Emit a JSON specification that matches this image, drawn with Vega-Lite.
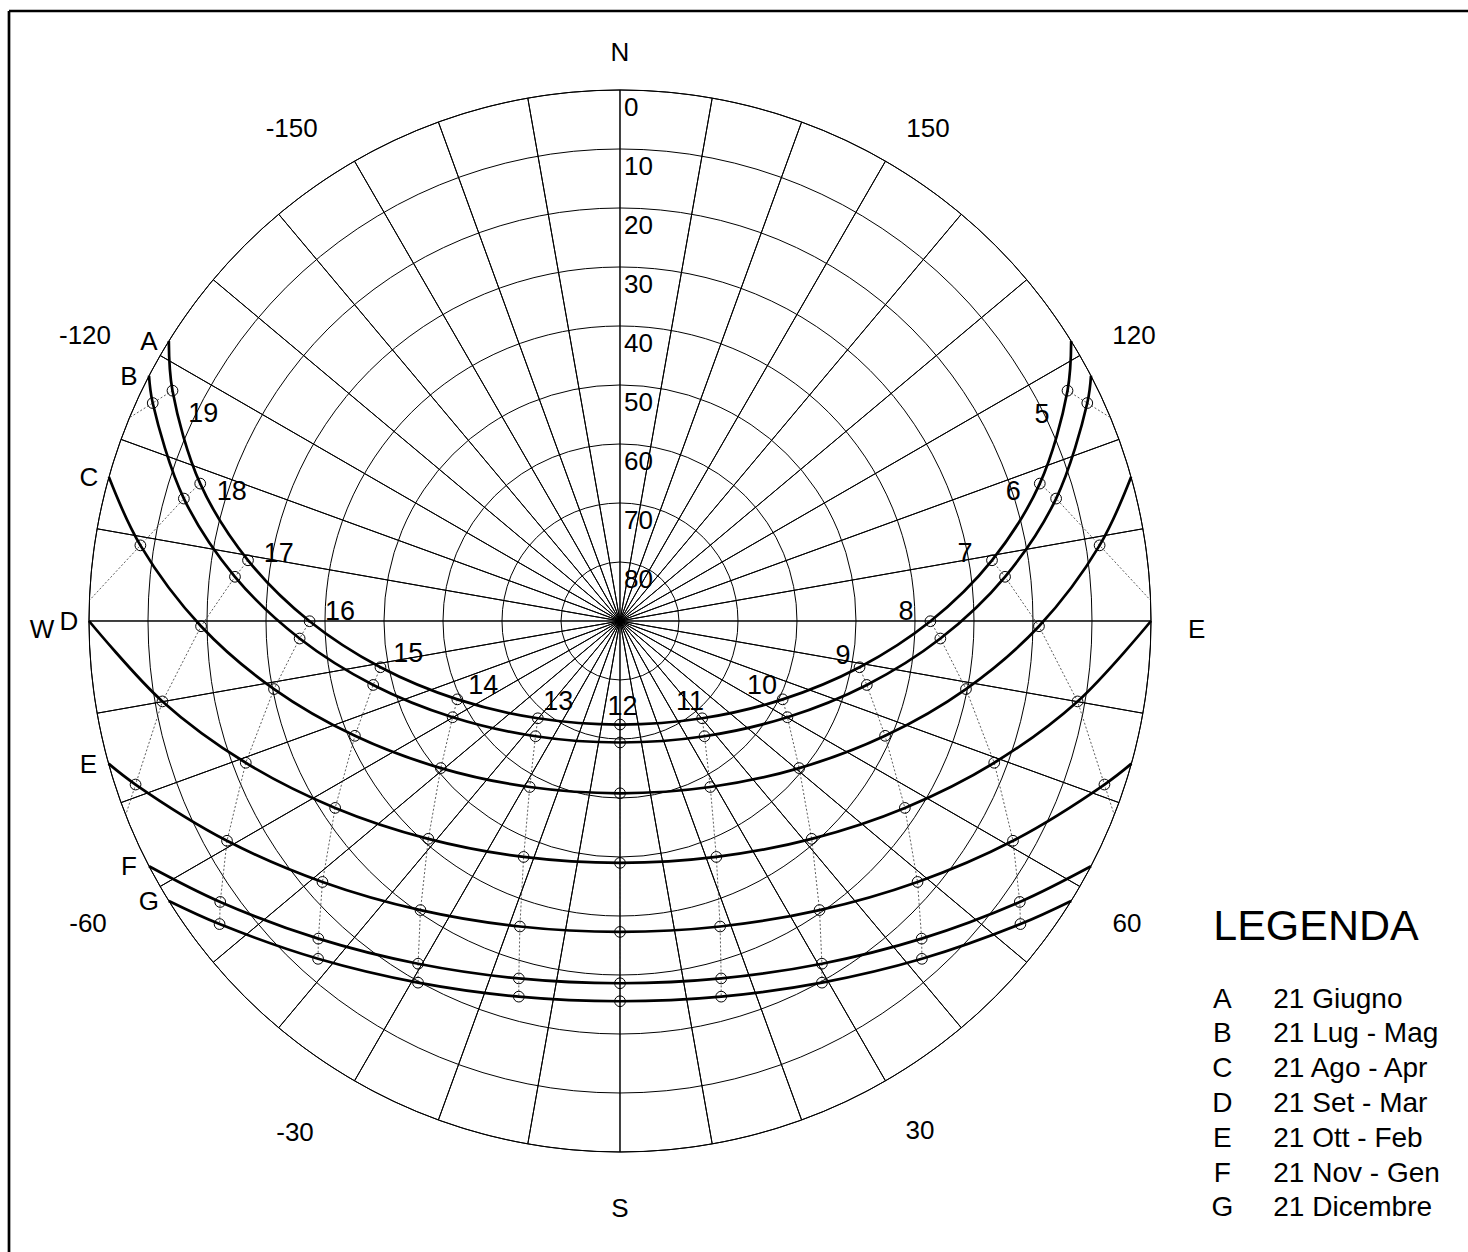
{
  "$schema": "https://vega.github.io/schema/vega-lite/v6.json",
  "width": 1459,
  "height": 1241,
  "autosize": {"type": "none"},
  "padding": {"left": 9, "top": 11, "right": 0, "bottom": 0},
  "background": "white",
  "config": {"view": {"stroke": null}, "text": {"font": "Liberation Sans", "color": "black"}},
  "datasets": {
    "sectors": [
      {"az0": 0, "az1": 10}, {"az0": 10, "az1": 20}, {"az0": 20, "az1": 30}, {"az0": 30, "az1": 40},
      {"az0": 40, "az1": 50}, {"az0": 50, "az1": 60}, {"az0": 60, "az1": 70}, {"az0": 70, "az1": 80},
      {"az0": 80, "az1": 90}, {"az0": 90, "az1": 100}, {"az0": 100, "az1": 110}, {"az0": 110, "az1": 120},
      {"az0": 120, "az1": 130}, {"az0": 130, "az1": 140}, {"az0": 140, "az1": 150}, {"az0": 150, "az1": 160},
      {"az0": 160, "az1": 170}, {"az0": 170, "az1": 180}, {"az0": 180, "az1": 190}, {"az0": 190, "az1": 200},
      {"az0": 200, "az1": 210}, {"az0": 210, "az1": 220}, {"az0": 220, "az1": 230}, {"az0": 230, "az1": 240},
      {"az0": 240, "az1": 250}, {"az0": 250, "az1": 260}, {"az0": 260, "az1": 270}, {"az0": 270, "az1": 280},
      {"az0": 280, "az1": 290}, {"az0": 290, "az1": 300}, {"az0": 300, "az1": 310}, {"az0": 310, "az1": 320},
      {"az0": 320, "az1": 330}, {"az0": 330, "az1": 340}, {"az0": 340, "az1": 350}, {"az0": 350, "az1": 360}
    ],
    "rings": [
      {"alt": "0", "zen": 90}, {"alt": "10", "zen": 80}, {"alt": "20", "zen": 70}, {"alt": "30", "zen": 60},
      {"alt": "40", "zen": 50}, {"alt": "50", "zen": 40}, {"alt": "60", "zen": 30}, {"alt": "70", "zen": 20},
      {"alt": "80", "zen": 10}
    ],
    "frame": [{"left": -103.56, "top": 103.39}],
    "sun": [
      {"date": "A", "rank": 1, "type": "rise", "x": 76.47, "y": 47.46},
      {"date": "A", "rank": 1, "type": "sun", "hour": 5, "x": 75.85, "y": 39.04},
      {"date": "A", "rank": 1, "type": "sun", "hour": 6, "x": 71.15, "y": 23.29},
      {"date": "A", "rank": 1, "type": "sun", "hour": 7, "x": 63.05, "y": 10.29},
      {"date": "A", "rank": 1, "type": "sun", "hour": 8, "x": 52.61, "y": -0.04},
      {"date": "A", "rank": 1, "type": "sun", "hour": 9, "x": 40.60, "y": -7.84},
      {"date": "A", "rank": 1, "type": "sun", "hour": 10, "x": 27.57, "y": -13.28},
      {"date": "A", "rank": 1, "type": "sun", "hour": 11, "x": 13.93, "y": -16.49},
      {"date": "A", "rank": 1, "type": "sun", "hour": 12, "x": 0, "y": -17.55},
      {"date": "A", "rank": 1, "type": "sun", "hour": 13, "x": -13.93, "y": -16.49},
      {"date": "A", "rank": 1, "type": "sun", "hour": 14, "x": -27.57, "y": -13.28},
      {"date": "A", "rank": 1, "type": "sun", "hour": 15, "x": -40.60, "y": -7.84},
      {"date": "A", "rank": 1, "type": "sun", "hour": 16, "x": -52.61, "y": -0.04},
      {"date": "A", "rank": 1, "type": "sun", "hour": 17, "x": -63.05, "y": 10.29},
      {"date": "A", "rank": 1, "type": "sun", "hour": 18, "x": -71.15, "y": 23.29},
      {"date": "A", "rank": 1, "type": "sun", "hour": 19, "x": -75.85, "y": 39.04},
      {"date": "A", "rank": 1, "type": "rise", "x": -76.47, "y": 47.46},

      {"date": "B", "rank": 2, "type": "rise", "x": 79.83, "y": 41.57},
      {"date": "B", "rank": 2, "type": "sun", "hour": 5, "x": 79.20, "y": 36.94},
      {"date": "B", "rank": 2, "type": "sun", "hour": 6, "x": 73.92, "y": 20.75},
      {"date": "B", "rank": 2, "type": "sun", "hour": 7, "x": 65.26, "y": 7.49},
      {"date": "B", "rank": 2, "type": "sun", "hour": 8, "x": 54.30, "y": -2.97},
      {"date": "B", "rank": 2, "type": "sun", "hour": 9, "x": 41.83, "y": -10.84},
      {"date": "B", "rank": 2, "type": "sun", "hour": 10, "x": 28.37, "y": -16.31},
      {"date": "B", "rank": 2, "type": "sun", "hour": 11, "x": 14.32, "y": -19.53},
      {"date": "B", "rank": 2, "type": "sun", "hour": 12, "x": 0, "y": -20.59},
      {"date": "B", "rank": 2, "type": "sun", "hour": 13, "x": -14.32, "y": -19.53},
      {"date": "B", "rank": 2, "type": "sun", "hour": 14, "x": -28.37, "y": -16.31},
      {"date": "B", "rank": 2, "type": "sun", "hour": 15, "x": -41.83, "y": -10.84},
      {"date": "B", "rank": 2, "type": "sun", "hour": 16, "x": -54.30, "y": -2.97},
      {"date": "B", "rank": 2, "type": "sun", "hour": 17, "x": -65.26, "y": 7.49},
      {"date": "B", "rank": 2, "type": "sun", "hour": 18, "x": -73.92, "y": 20.75},
      {"date": "B", "rank": 2, "type": "sun", "hour": 19, "x": -79.20, "y": 36.94},
      {"date": "B", "rank": 2, "type": "rise", "x": -79.83, "y": 41.57},

      {"date": "C", "rank": 3, "type": "rise", "x": 86.63, "y": 24.39},
      {"date": "C", "rank": 3, "type": "sun", "hour": 6, "x": 81.29, "y": 12.82},
      {"date": "C", "rank": 3, "type": "sun", "hour": 7, "x": 71.01, "y": -0.89},
      {"date": "C", "rank": 3, "type": "sun", "hour": 8, "x": 58.64, "y": -11.54},
      {"date": "C", "rank": 3, "type": "sun", "hour": 9, "x": 44.93, "y": -19.46},
      {"date": "C", "rank": 3, "type": "sun", "hour": 10, "x": 30.37, "y": -24.93},
      {"date": "C", "rank": 3, "type": "sun", "hour": 11, "x": 15.30, "y": -28.14},
      {"date": "C", "rank": 3, "type": "sun", "hour": 12, "x": 0, "y": -29.20},
      {"date": "C", "rank": 3, "type": "sun", "hour": 13, "x": -15.30, "y": -28.14},
      {"date": "C", "rank": 3, "type": "sun", "hour": 14, "x": -30.37, "y": -24.93},
      {"date": "C", "rank": 3, "type": "sun", "hour": 15, "x": -44.93, "y": -19.46},
      {"date": "C", "rank": 3, "type": "sun", "hour": 16, "x": -58.64, "y": -11.54},
      {"date": "C", "rank": 3, "type": "sun", "hour": 17, "x": -71.01, "y": -0.89},
      {"date": "C", "rank": 3, "type": "sun", "hour": 18, "x": -81.29, "y": 12.82},
      {"date": "C", "rank": 3, "type": "rise", "x": -86.63, "y": 24.39},

      {"date": "D", "rank": 4, "type": "rise", "x": 90, "y": 0},
      {"date": "D", "rank": 4, "type": "sun", "hour": 7, "x": 77.55, "y": -13.63},
      {"date": "D", "rank": 4, "type": "sun", "hour": 8, "x": 63.43, "y": -24.03},
      {"date": "D", "rank": 4, "type": "sun", "hour": 9, "x": 48.28, "y": -31.68},
      {"date": "D", "rank": 4, "type": "sun", "hour": 10, "x": 32.49, "y": -36.92},
      {"date": "D", "rank": 4, "type": "sun", "hour": 11, "x": 16.33, "y": -39.99},
      {"date": "D", "rank": 4, "type": "sun", "hour": 12, "x": 0, "y": -41.00},
      {"date": "D", "rank": 4, "type": "sun", "hour": 13, "x": -16.33, "y": -39.99},
      {"date": "D", "rank": 4, "type": "sun", "hour": 14, "x": -32.49, "y": -36.92},
      {"date": "D", "rank": 4, "type": "sun", "hour": 15, "x": -48.28, "y": -31.68},
      {"date": "D", "rank": 4, "type": "sun", "hour": 16, "x": -63.43, "y": -24.03},
      {"date": "D", "rank": 4, "type": "sun", "hour": 17, "x": -77.55, "y": -13.63},
      {"date": "D", "rank": 4, "type": "rise", "x": -90, "y": 0},

      {"date": "E", "rank": 5, "type": "rise", "x": 86.69, "y": -24.18},
      {"date": "E", "rank": 5, "type": "sun", "hour": 7, "x": 82.11, "y": -27.72},
      {"date": "E", "rank": 5, "type": "sun", "hour": 8, "x": 66.61, "y": -37.25},
      {"date": "E", "rank": 5, "type": "sun", "hour": 9, "x": 50.43, "y": -44.23},
      {"date": "E", "rank": 5, "type": "sun", "hour": 10, "x": 33.82, "y": -49.00},
      {"date": "E", "rank": 5, "type": "sun", "hour": 11, "x": 16.97, "y": -51.78},
      {"date": "E", "rank": 5, "type": "sun", "hour": 12, "x": 0, "y": -52.70},
      {"date": "E", "rank": 5, "type": "sun", "hour": 13, "x": -16.97, "y": -51.78},
      {"date": "E", "rank": 5, "type": "sun", "hour": 14, "x": -33.82, "y": -49.00},
      {"date": "E", "rank": 5, "type": "sun", "hour": 15, "x": -50.43, "y": -44.23},
      {"date": "E", "rank": 5, "type": "sun", "hour": 16, "x": -66.61, "y": -37.25},
      {"date": "E", "rank": 5, "type": "sun", "hour": 17, "x": -82.11, "y": -27.72},
      {"date": "E", "rank": 5, "type": "rise", "x": -86.69, "y": -24.18},

      {"date": "F", "rank": 6, "type": "rise", "x": 79.83, "y": -41.57},
      {"date": "F", "rank": 6, "type": "sun", "hour": 8, "x": 67.76, "y": -47.62},
      {"date": "F", "rank": 6, "type": "sun", "hour": 9, "x": 51.13, "y": -53.84},
      {"date": "F", "rank": 6, "type": "sun", "hour": 10, "x": 34.22, "y": -58.09},
      {"date": "F", "rank": 6, "type": "sun", "hour": 11, "x": 17.15, "y": -60.58},
      {"date": "F", "rank": 6, "type": "sun", "hour": 12, "x": 0, "y": -61.40},
      {"date": "F", "rank": 6, "type": "sun", "hour": 13, "x": -17.15, "y": -60.58},
      {"date": "F", "rank": 6, "type": "sun", "hour": 14, "x": -34.22, "y": -58.09},
      {"date": "F", "rank": 6, "type": "sun", "hour": 15, "x": -51.13, "y": -53.84},
      {"date": "F", "rank": 6, "type": "sun", "hour": 16, "x": -67.76, "y": -47.62},
      {"date": "F", "rank": 6, "type": "rise", "x": -79.83, "y": -41.57},

      {"date": "G", "rank": 7, "type": "rise", "x": 76.47, "y": -47.46},
      {"date": "G", "rank": 7, "type": "sun", "hour": 8, "x": 67.87, "y": -51.37},
      {"date": "G", "rank": 7, "type": "sun", "hour": 9, "x": 51.17, "y": -57.26},
      {"date": "G", "rank": 7, "type": "sun", "hour": 10, "x": 34.23, "y": -61.30},
      {"date": "G", "rank": 7, "type": "sun", "hour": 11, "x": 17.15, "y": -63.67},
      {"date": "G", "rank": 7, "type": "sun", "hour": 12, "x": 0, "y": -64.45},
      {"date": "G", "rank": 7, "type": "sun", "hour": 13, "x": -17.15, "y": -63.67},
      {"date": "G", "rank": 7, "type": "sun", "hour": 14, "x": -34.23, "y": -61.30},
      {"date": "G", "rank": 7, "type": "sun", "hour": 15, "x": -51.17, "y": -57.26},
      {"date": "G", "rank": 7, "type": "sun", "hour": 16, "x": -67.87, "y": -51.37},
      {"date": "G", "rank": 7, "type": "rise", "x": -76.47, "y": -47.46},

      {"type": "ext", "rank": 8, "hour": 5, "x": 83.14, "y": 34.46},
      {"type": "ext", "rank": 8, "hour": 6, "x": 89.93, "y": 3.50},
      {"type": "ext", "rank": 8, "hour": 7, "x": 83.78, "y": -32.88},
      {"type": "ext", "rank": 8, "hour": 17, "x": -83.78, "y": -32.88},
      {"type": "ext", "rank": 8, "hour": 18, "x": -89.93, "y": 3.50},
      {"type": "ext", "rank": 8, "hour": 19, "x": -83.14, "y": 34.46}
    ],
    "hourLabels": [
      {"hour": "19", "x": -70.63, "y": 35.03}, {"hour": "18", "x": -65.81, "y": 21.78},
      {"hour": "17", "x": -57.83, "y": 11.32}, {"hour": "16", "x": -47.46, "y": 1.58},
      {"hour": "15", "x": -35.88, "y": -5.63}, {"hour": "14", "x": -23.17, "y": -10.98},
      {"hour": "13", "x": -10.46, "y": -13.81}, {"hour": "12", "x": 0.42, "y": -14.66},
      {"hour": "11", "x": 11.86, "y": -13.81}, {"hour": "10", "x": 24.07, "y": -11.02},
      {"hour": "9", "x": 37.8, "y": -5.93}, {"hour": "8", "x": 48.47, "y": 1.53},
      {"hour": "7", "x": 58.47, "y": 11.36}, {"hour": "6", "x": 66.66, "y": 21.83},
      {"hour": "5", "x": 71.53, "y": 34.92}
    ],
    "dirLabels": [
      {"label": "N", "x": 0, "y": 96.27}, {"label": "S", "x": 0, "y": -99.66},
      {"label": "E", "x": 97.75, "y": -1.53}, {"label": "W", "x": -97.97, "y": -1.53},
      {"label": "150", "x": 52.2, "y": 83.39}, {"label": "-150", "x": -55.64, "y": 83.31},
      {"label": "120", "x": 87.12, "y": 48.25}, {"label": "-120", "x": -90.68, "y": 48.31},
      {"label": "60", "x": 85.93, "y": -51.41}, {"label": "-60", "x": -90.17, "y": -51.41},
      {"label": "30", "x": 50.85, "y": -86.44}, {"label": "-30", "x": -55.08, "y": -86.83}
    ],
    "title": [{"label": "LEGENDA", "x": 117.97, "y": -51.86}],
    "legend": [
      {"code": "A", "label": "21 Giugno"}, {"code": "B", "label": "21 Lug - Mag"},
      {"code": "C", "label": "21 Ago - Apr"}, {"code": "D", "label": "21 Set - Mar"},
      {"code": "E", "label": "21 Ott - Feb"}, {"code": "F", "label": "21 Nov - Gen"},
      {"code": "G", "label": "21 Dicembre"}
    ]
  },
  "resolve": {"scale": {"y": "independent"}},
  "layer": [
    {
      "layer": [
        {
          "data": {"name": "sectors"},
          "mark": {"type": "arc", "filled": false, "stroke": "black", "strokeWidth": 1, "strokeJoin": "bevel"},
          "encoding": {
            "theta": {"field": "az0", "type": "quantitative", "stack": null, "scale": {"type": "linear", "domain": [0, 360], "range": [0, 6.283185307179586], "zero": true}},
            "theta2": {"field": "az1"},
            "radius": {"datum": 90, "type": "quantitative", "scale": {"type": "linear", "domain": [0, 90], "range": [0, 531], "zero": true}},
            "x": {"datum": 0, "type": "quantitative", "scale": {"domain": [-103.56, 143.73], "nice": false, "zero": false}, "axis": null},
            "y": {"datum": 0, "type": "quantitative", "scale": {"domain": [-106.95, 103.39], "nice": false, "zero": false}, "axis": null}
          }
        },
        {
          "data": {"name": "rings"},
          "mark": {"type": "arc", "filled": false, "stroke": "black", "strokeWidth": 1, "theta": 0, "theta2": 6.2832},
          "encoding": {
            "radius": {"field": "zen", "type": "quantitative", "stack": null, "scale": {"type": "linear", "domain": [0, 90], "range": [0, 531], "zero": true}},
            "x": {"datum": 0, "type": "quantitative", "scale": {"domain": [-103.56, 143.73], "nice": false, "zero": false}, "axis": null},
            "y": {"datum": 0, "type": "quantitative", "scale": {"domain": [-106.95, 103.39], "nice": false, "zero": false}, "axis": null}
          }
        },
        {
          "data": {"name": "sun"},
          "transform": [{"filter": "datum.type != 'rise'"}],
          "mark": {"type": "line", "stroke": "#333333", "strokeWidth": 0.8, "strokeDash": [2, 2]},
          "encoding": {
            "x": {"field": "x", "type": "quantitative", "scale": {"domain": [-103.56, 143.73], "nice": false, "zero": false}, "axis": null},
            "y": {"field": "y", "type": "quantitative", "scale": {"domain": [-106.95, 103.39], "nice": false, "zero": false}, "axis": null},
            "detail": {"field": "hour", "type": "nominal"},
            "order": {"field": "rank", "type": "quantitative"}
          }
        },
        {
          "data": {"name": "sun"},
          "transform": [{"filter": "datum.type != 'ext'"}],
          "mark": {"type": "line", "stroke": "black", "strokeWidth": 2.7, "interpolate": "catmull-rom"},
          "encoding": {
            "x": {"field": "x", "type": "quantitative", "scale": {"domain": [-103.56, 143.73], "nice": false, "zero": false}, "axis": null},
            "y": {"field": "y", "type": "quantitative", "scale": {"domain": [-106.95, 103.39], "nice": false, "zero": false}, "axis": null},
            "detail": {"field": "date", "type": "nominal"},
            "order": {"field": "x", "type": "quantitative"}
          }
        },
        {
          "data": {"name": "sun"},
          "transform": [{"filter": "datum.type == 'sun'"}],
          "mark": {"type": "point", "shape": "circle", "size": 115, "filled": false, "stroke": "black", "strokeWidth": 1, "opacity": 1},
          "encoding": {
            "x": {"field": "x", "type": "quantitative", "scale": {"domain": [-103.56, 143.73], "nice": false, "zero": false}, "axis": null},
            "y": {"field": "y", "type": "quantitative", "scale": {"domain": [-106.95, 103.39], "nice": false, "zero": false}, "axis": null}
          }
        },
        {
          "data": {"name": "sun"},
          "transform": [{"filter": "datum.type == 'rise' && datum.x < 0"}],
          "mark": {"type": "text", "fontSize": 26, "dx": -20, "dy": 1},
          "encoding": {
            "x": {"field": "x", "type": "quantitative", "scale": {"domain": [-103.56, 143.73], "nice": false, "zero": false}, "axis": null},
            "y": {"field": "y", "type": "quantitative", "scale": {"domain": [-106.95, 103.39], "nice": false, "zero": false}, "axis": null},
            "text": {"field": "date", "type": "nominal"}
          }
        },
        {
          "data": {"name": "hourLabels"},
          "mark": {"type": "text", "fontSize": 27},
          "encoding": {
            "x": {"field": "x", "type": "quantitative", "scale": {"domain": [-103.56, 143.73], "nice": false, "zero": false}, "axis": null},
            "y": {"field": "y", "type": "quantitative", "scale": {"domain": [-106.95, 103.39], "nice": false, "zero": false}, "axis": null},
            "text": {"field": "hour", "type": "nominal"}
          }
        },
        {
          "data": {"name": "rings"},
          "mark": {"type": "text", "fontSize": 26, "align": "left", "dx": 4, "dy": 18},
          "encoding": {
            "x": {"datum": 0, "type": "quantitative", "scale": {"domain": [-103.56, 143.73], "nice": false, "zero": false}, "axis": null},
            "y": {"field": "zen", "type": "quantitative", "scale": {"domain": [-106.95, 103.39], "nice": false, "zero": false}, "axis": null},
            "text": {"field": "alt", "type": "nominal"}
          }
        },
        {
          "data": {"name": "dirLabels"},
          "mark": {"type": "text", "fontSize": 26},
          "encoding": {
            "x": {"field": "x", "type": "quantitative", "scale": {"domain": [-103.56, 143.73], "nice": false, "zero": false}, "axis": null},
            "y": {"field": "y", "type": "quantitative", "scale": {"domain": [-106.95, 103.39], "nice": false, "zero": false}, "axis": null},
            "text": {"field": "label", "type": "nominal"}
          }
        },
        {
          "data": {"name": "title"},
          "mark": {"type": "text", "fontSize": 43},
          "encoding": {
            "x": {"field": "x", "type": "quantitative", "scale": {"domain": [-103.56, 143.73], "nice": false, "zero": false}, "axis": null},
            "y": {"field": "y", "type": "quantitative", "scale": {"domain": [-106.95, 103.39], "nice": false, "zero": false}, "axis": null},
            "text": {"field": "label", "type": "nominal"}
          }
        },
        {
          "data": {"name": "frame"},
          "mark": {"type": "rule", "stroke": "black", "strokeWidth": 2.7},
          "encoding": {
            "x": {"field": "left", "type": "quantitative", "scale": {"domain": [-103.56, 143.73], "nice": false, "zero": false}, "axis": null}
          }
        },
        {
          "data": {"name": "frame"},
          "mark": {"type": "rule", "stroke": "black", "strokeWidth": 2.7},
          "encoding": {
            "y": {"field": "top", "type": "quantitative", "scale": {"domain": [-106.95, 103.39], "nice": false, "zero": false}, "axis": null}
          }
        }
      ]
    },
    {
      "data": {"name": "legend"},
      "layer": [
        {
          "mark": {"type": "text", "fontSize": 28},
          "encoding": {
            "x": {"datum": 102.1, "type": "quantitative", "scale": {"domain": [-103.56, 143.73], "nice": false, "zero": false}, "axis": null},
            "y": {"field": "code", "type": "ordinal", "scale": {"type": "point", "domain": ["A", "B", "C", "D", "E", "F", "G"], "range": [988.7, 1197.3], "padding": 0}, "axis": null},
            "text": {"field": "code", "type": "nominal"}
          }
        },
        {
          "mark": {"type": "text", "fontSize": 28, "align": "left"},
          "encoding": {
            "x": {"datum": 110.73, "type": "quantitative", "scale": {"domain": [-103.56, 143.73], "nice": false, "zero": false}, "axis": null},
            "y": {"field": "code", "type": "ordinal", "scale": {"type": "point", "domain": ["A", "B", "C", "D", "E", "F", "G"], "range": [988.7, 1197.3], "padding": 0}, "axis": null},
            "text": {"field": "label", "type": "nominal"}
          }
        }
      ]
    }
  ]
}
